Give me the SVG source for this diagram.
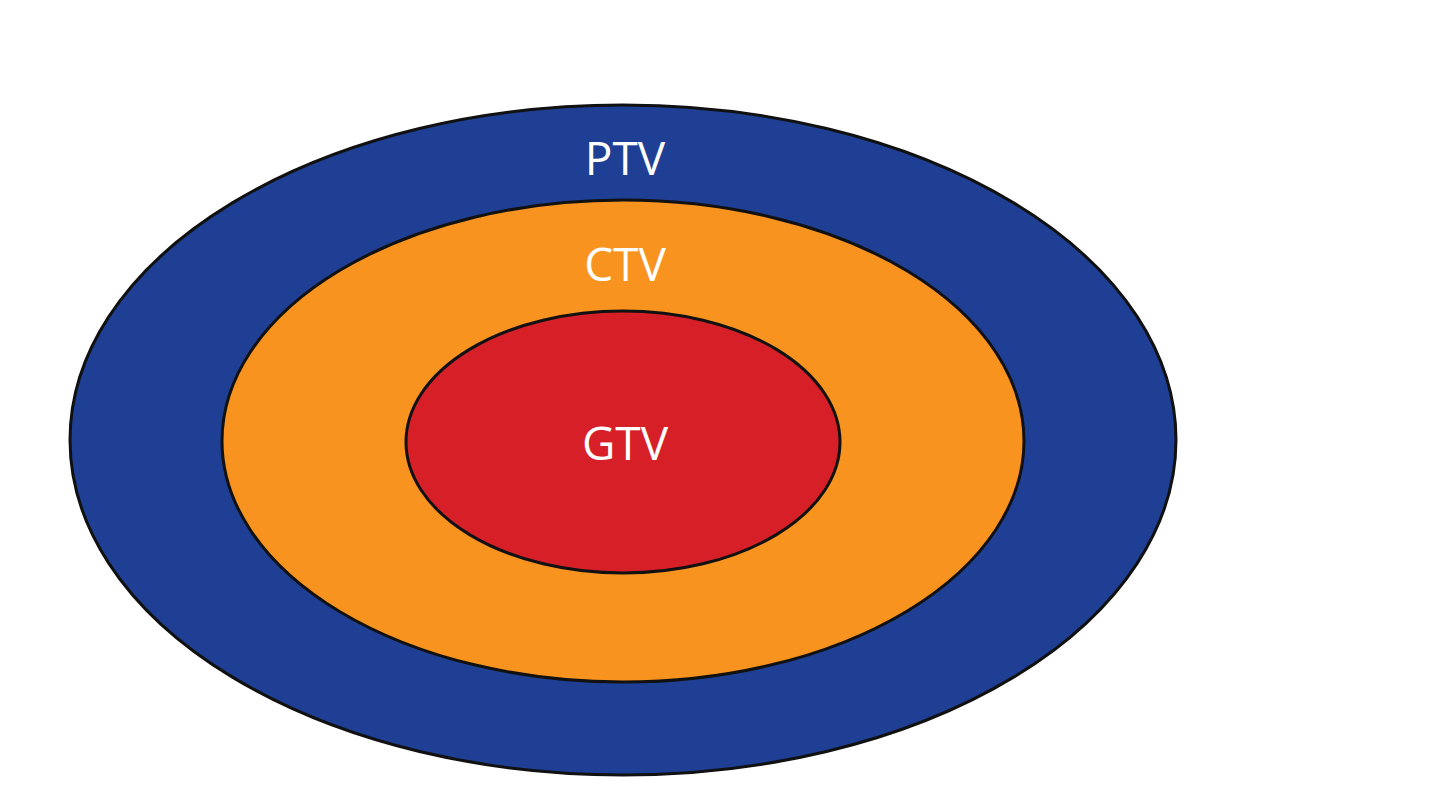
<svg xmlns="http://www.w3.org/2000/svg" width="1432" height="800" viewBox="0 0 1432 800">
<style>
.r{stroke:#111;stroke-width:3}
.t{fill:#fff;font-family:"Open Sans","Noto Sans",sans-serif;font-size:46px;text-anchor:middle}
</style>
<rect width="1432" height="800" fill="#fff"/>
<g id="ptv"><ellipse class="r" cx="623" cy="440" rx="553" ry="335" fill="#1e3f94"/><text class="t" x="625" y="175">PTV</text></g>
<g id="ctv"><ellipse class="r" cx="623" cy="441" rx="401" ry="241" fill="#f7931e"/><text class="t" x="625" y="281">CTV</text></g>
<g id="gtv"><ellipse class="r" cx="623" cy="442" rx="217" ry="131" fill="#d71f28"/><text class="t" x="625" y="460">GTV</text></g>
<g id="connectors"/>
</svg>
